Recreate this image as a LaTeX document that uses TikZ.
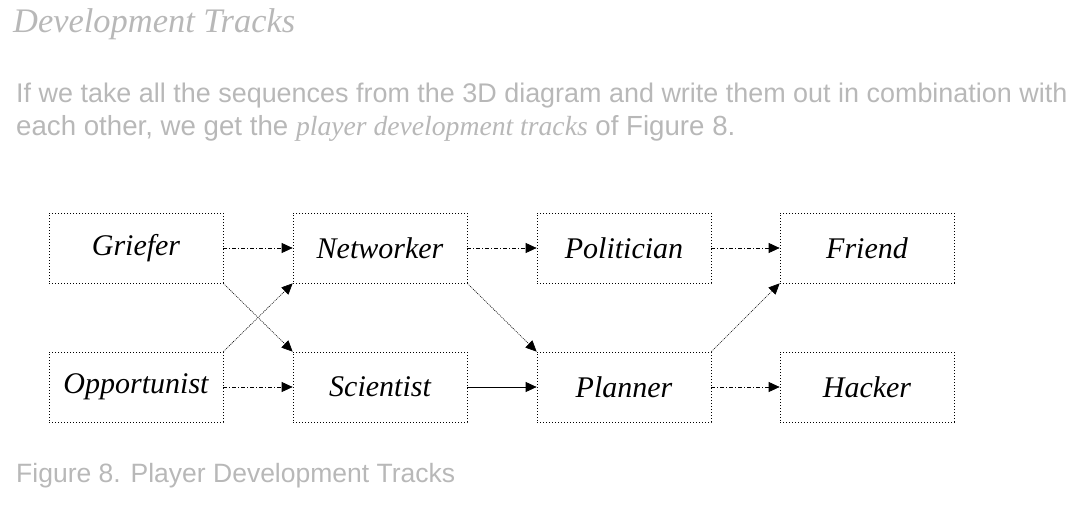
\documentclass[tikz,border=0pt]{standalone}
\usepackage{fontspec}
\setmainfont{Liberation Serif}
\newfontfamily\parafont{Liberation Sans}
\usetikzlibrary{arrows.meta}
\definecolor{paletext}{gray}{0.72}
\tikzset{
  trackbox/.style={draw, line width=0.7pt, dash pattern=on 1pt off 2pt,
    minimum width=174pt, minimum height=70pt, inner sep=0pt,
    font=\fontsize{30}{32}\selectfont\itshape},
  flow/.style={line width=0.7pt, dash pattern=on 4pt off 2pt on 1pt off 2pt,
    -{Triangle[length=11pt,width=10pt]}},
  diag/.style={line width=0.6pt, dash pattern=on 1pt off 1pt,
    -{Triangle[length=11pt,width=10pt]}},
  solidflow/.style={line width=0.7pt, -{Triangle[length=11pt,width=10pt]}},
  pale/.style={inner sep=0pt, text=paletext}
}
\begin{document}
\begin{tikzpicture}[x=1pt,y=-1pt]
\useasboundingbox (0,0) rectangle (1084,519);
% surrounding text
\node[pale, anchor=base west] (title) at (13,33)
  {\resizebox{282pt}{!}{\itshape Development Tracks}};
\node[pale, anchor=base west] (line1) at (16,102)
  {\resizebox{1051pt}{!}{\parafont If we take all the sequences from the 3D diagram and write them out in combination with}};
\node[pale, anchor=base west] (line2) at (16,135)
  {\resizebox{719pt}{!}{\parafont each other, we get the {\rmfamily\itshape player development tracks} of Figure 8.}};
\node[pale, anchor=base west] (caption) at (16,482)
  {\resizebox{439pt}{!}{\parafont Figure 8. Player Development Tracks}};
% boxes
\node[trackbox] (griefer)     at (136,248) {Griefer};
\node[trackbox] (networker)   at (380,248) {Networker};
\node[trackbox] (politician)  at (624,248) {Politician};
\node[trackbox] (friend)      at (867,248) {Friend};
\node[trackbox] (opportunist) at (136,387) {Opportunist};
\node[trackbox] (scientist)   at (380,387) {Scientist};
\node[trackbox] (planner)     at (624,387) {Planner};
\node[trackbox] (hacker)      at (867,387) {Hacker};
% connectors
\draw[flow] (griefer) -- (networker);
\draw[flow] (networker) -- (politician);
\draw[flow] (politician) -- (friend);
\draw[flow] (opportunist) -- (scientist);
\draw[solidflow] (scientist) -- (planner);
\draw[flow] (planner) -- (hacker);
\draw[diag] (griefer.south east) -- (scientist.north west);
\draw[diag] (opportunist.north east) -- (networker.south west);
\draw[diag] (networker.south east) -- (planner.north west);
\draw[diag] (planner.north east) -- (friend.south west);
\end{tikzpicture}
\end{document}
